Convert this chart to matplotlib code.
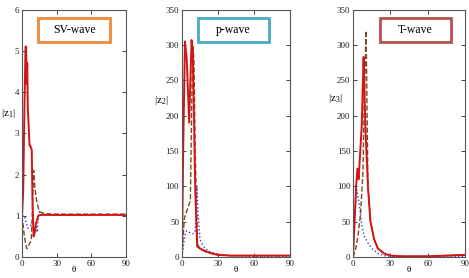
import matplotlib.pyplot as plt
from matplotlib.patches import Rectangle

plt.rcParams["font.family"] = "Liberation Serif"
plt.rcParams["mathtext.fontset"] = "custom"
plt.rcParams["mathtext.rm"] = "Liberation Serif"
plt.rcParams["mathtext.it"] = "Liberation Serif"

# SV-wave |z1|
sv_red_t = [0, 1, 2, 3, 3.5, 4, 4.5, 5, 6.5, 7, 8.4, 9, 10, 11, 12, 13, 14, 16, 20, 30, 60, 90]
sv_red_v = [1.0, 1.6, 3.5, 5.1, 5.1, 4.2, 4.7, 3.6, 2.7, 2.7, 2.6, 1.4, 0.5, 0.6, 0.8, 0.9, 1.0, 1.02, 1.02, 1.02, 1.02, 1.02]
sv_brn_t = [0, 2, 4, 6, 8, 9, 10, 11, 13, 15, 20, 30, 60, 90]
sv_brn_v = [1.0, 0.5, 0.2, 0.3, 0.4, 1.2, 2.1, 1.7, 1.3, 1.1, 1.05, 1.04, 1.04, 1.04]
sv_blu_t = [0, 1, 2, 4, 5, 7, 9, 10, 12, 13, 14, 15, 17, 20, 30, 60, 90]
sv_blu_v = [1.0, 1.0, 1.0, 0.8, 0.7, 0.75, 0.8, 0.85, 0.8, 0.6, 0.9, 1.1, 1.05, 1.02, 1.02, 1.02, 1.02]

# p-wave |z2|
p_red_t = [0, 1, 2.5, 4, 6, 8, 9, 10, 11, 12.7, 15, 20, 25, 30, 40, 60, 90]
p_red_v = [0, 150, 305, 280, 190, 307, 290, 200, 100, 15, 12, 8, 5, 3, 2, 2, 2]
p_brn_t = [0, 1, 2, 4, 7, 8, 9, 10, 11, 13, 15, 20, 30, 40, 60, 90]
p_brn_v = [0, 30, 55, 65, 80, 200, 300, 280, 150, 18, 12, 7, 3, 2, 2, 2]
p_blu_t = [0, 1.5, 3, 4, 6, 9, 11, 12.5, 13.5, 15, 18, 22, 30, 40, 60, 90]
p_blu_v = [0, 20, 35, 37, 35, 33, 35, 100, 60, 25, 15, 8, 4, 2, 1, 1]

# T-wave |z3|
t_red_t = [0, 1.5, 2.5, 3.5, 4.5, 5, 7, 8.5, 9, 10, 12, 14, 17, 20, 25, 30, 40, 60, 90]
t_red_v = [0, 60, 100, 125, 110, 125, 185, 283, 250, 180, 100, 50, 25, 12, 5, 2, 1, 1, 3]
t_brn_t = [0, 2, 4, 6, 8, 9, 10.5, 11, 12, 14, 17, 20, 25, 30, 40, 60, 90]
t_brn_v = [0, 10, 30, 60, 120, 220, 320, 250, 100, 50, 25, 12, 5, 2, 1, 1, 3]
t_blu_t = [0, 1, 3, 5, 7, 9, 12, 15, 20, 25, 30, 60, 90]
t_blu_v = [0, 50, 95, 75, 45, 30, 20, 12, 5, 2, 1, 1, 1]

panels = [
    dict(pos=[0.047, 0.0755, 0.222, 0.89], ylim=6, yt=range(0, 7), lab="$|z_1|$", labxy=(0.017, 0.59),
         title="SV-wave", ec="#ef8a3c", box=(0.154, 0.869, 0.692, 0.097),
         red=(sv_red_t, sv_red_v), brn=(sv_brn_t, sv_brn_v), blu=(sv_blu_t, sv_blu_v)),
    dict(pos=[0.388, 0.0755, 0.230, 0.89], ylim=350, yt=range(0, 351, 50), lab="$|z_2|$", labxy=(0.345, 0.64),
         title="p-wave", ec="#4aabc0", box=(0.148, 0.869, 0.658, 0.097),
         red=(p_red_t, p_red_v), brn=(p_brn_t, p_brn_v), blu=(p_blu_t, p_blu_v)),
    dict(pos=[0.7527, 0.0755, 0.2388, 0.89], ylim=350, yt=range(0, 351, 50), lab="$|z_3|$", labxy=(0.714, 0.645),
         title="T-wave", ec="#b5504f", box=(0.241, 0.869, 0.634, 0.097),
         red=(t_red_t, t_red_v), brn=(t_brn_t, t_brn_v), blu=(t_blu_t, t_blu_v)),
]

fig = plt.figure(figsize=(4.69, 2.78), dpi=100)
for p in panels:
    ax = fig.add_axes(p["pos"])
    ax.plot(*p["blu"], color="#3b3bd8", ls=":", lw=1.0)
    ax.plot(*p["brn"], color="#7a4a1e", ls="--", lw=1.0)
    ax.plot(*p["red"], color="#d41414", ls="-", lw=1.4)
    ax.set_xlim(0, 90)
    ax.set_ylim(0, p["ylim"])
    ax.set_xticks([0, 30, 60, 90])
    ax.set_yticks(list(p["yt"]))
    ax.tick_params(direction="in", top=True, right=True, labelsize=6.5, length=3, width=0.6, pad=2, colors="#222222")
    for s in ax.spines.values():
        s.set_color("#555555")
        s.set_linewidth(0.8)
    ax.set_xlabel("θ", fontsize=6.5, labelpad=-1)
    fig.text(p["labxy"][0], p["labxy"][1], p["lab"], fontsize=8, ha="center", va="center")
    bx, by, bw, bh = p["box"]
    ax.add_patch(Rectangle((bx, by), bw, bh, transform=ax.transAxes, fill=True,
                           facecolor="white", edgecolor=p["ec"], lw=2.0, zorder=5))
    ax.text(bx + bw / 2, by + bh / 2, p["title"], transform=ax.transAxes, ha="center", va="center",
            fontsize=8.5, zorder=6)

fig.savefig("out.png", dpi=100)
